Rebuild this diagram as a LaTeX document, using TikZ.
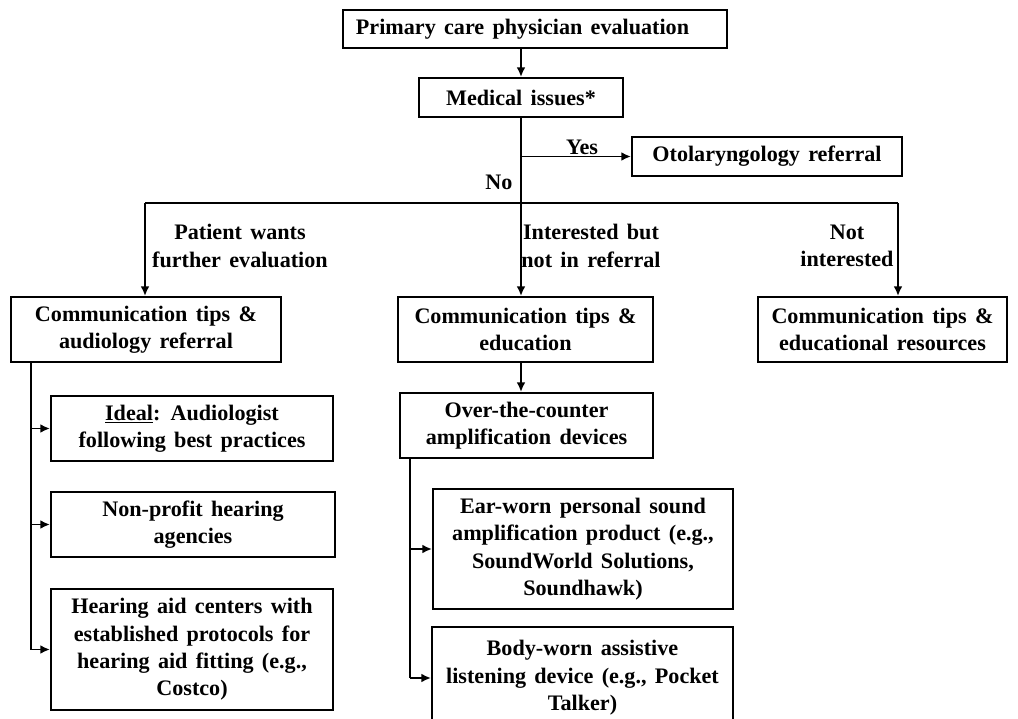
\documentclass[tikz,border=0pt]{standalone}
\usepackage{fontspec}
\setmainfont{Liberation Serif}[WordSpace=1.5]
\usetikzlibrary{arrows.meta}
\begin{document}
\begin{tikzpicture}[x=0.02cm,y=-0.02cm,
  every node/.style={font=\fontsize{12.6}{15.6}\selectfont\bfseries, inner sep=0pt},
  box/.style={draw, line width=1.1pt, align=center},
  lbl/.style={align=center},
  line/.style={line width=1.1pt},
  arr/.style={line width=1.1pt, -{Latex[length=5.5pt,width=5pt]}}]
\useasboundingbox (0,0) rectangle (1018,719);
\clip (0,0) rectangle (1018,719);
% boxes
\node[box, minimum width=384*0.02cm, minimum height=38*0.02cm] (pcp) at (535,29) {Primary care physician evaluation\hspace{0.5cm}};
\node[box, minimum width=204*0.02cm, minimum height=39*0.02cm] (med) at (521,97.5) {Medical issues*};
\node[box, minimum width=270*0.02cm, minimum height=39*0.02cm] (oto) at (767,156.5) {Otolaryngology referral};
\node[box, minimum width=270*0.02cm, minimum height=65*0.02cm] (left) at (146,329.5) {Communication tips \&\\audiology referral};
\node[box, minimum width=255*0.02cm, minimum height=65*0.02cm] (mid) at (525.5,329.5) {Communication tips \&\\education};
\node[box, minimum width=249*0.02cm, minimum height=65*0.02cm] (right) at (882.5,329.5) {Communication tips \&\\educational resources};
\node[box, minimum width=282*0.02cm, minimum height=65*0.02cm] (ideal) at (192,428.5) {\underline{Ideal}: Audiologist\\following best practices};
\node[box, minimum width=284*0.02cm, minimum height=65*0.02cm] (nonprofit) at (193,524.5) {Non-profit hearing\\agencies};
\node[box, minimum width=282*0.02cm, minimum height=121*0.02cm] (hearing) at (192,649.5) {Hearing aid centers with\\established protocols for\\hearing aid fitting (e.g.,\\Costco)};
\node[box, minimum width=253*0.02cm, minimum height=65*0.02cm] (otc) at (526.5,425.5) {Over-the-counter\\amplification devices};
\node[box, minimum width=300*0.02cm, minimum height=120*0.02cm] (ear) at (583,549) {Ear-worn personal sound\\amplification product (e.g.,\\SoundWorld Solutions,\\Soundhawk)};
\node[box, minimum width=301*0.02cm, minimum height=102*0.02cm] (body) at (582.5,678) {Body-worn assistive\\listening device (e.g., Pocket\\Talker)};
% labels
\node[lbl] (yes) at (582,147) {Yes};
\node[lbl] (no) at (499,182) {No};
\node[lbl] (lpat) at (240,246) {Patient wants\\further evaluation};
\node[lbl] (lint) at (591,246) {Interested but\\not in referral};
\node[lbl] (lnot) at (847,246) {Not\\interested};
% junctions
\coordinate (hL) at (145,203);
\coordinate (hR) at (898,203);
\coordinate (sL) at (31,362);
\coordinate (sM) at (410,458);
% connectors
\draw[arr] (med.north |- pcp.south) -- (med.north);
\draw[line] (med.south) -- (med.south |- hL);
\draw[arr] (med.south |- oto.west) -- (oto.west);
\draw[line] (hL) -- (hR);
\draw[arr] (hL) -- (hL |- left.north);
\draw[arr] (med.south |- hL) -- (med.south |- mid.north);
\draw[arr] (hR) -- (hR |- right.north);
\draw[arr] (mid.south -| med.south) -- (med.south |- otc.north);
\draw[line] (sL) -- (sL |- hearing.west);
\draw[arr] (sL |- ideal.west) -- (ideal.west);
\draw[arr] (sL |- nonprofit.west) -- (nonprofit.west);
\draw[arr] (sL |- hearing.west) -- (hearing.west);
\draw[line] (sM) -- (sM |- body.west);
\draw[arr] (sM |- ear.west) -- (ear.west);
\draw[arr] (sM |- body.west) -- (body.west);
\end{tikzpicture}
\end{document}
